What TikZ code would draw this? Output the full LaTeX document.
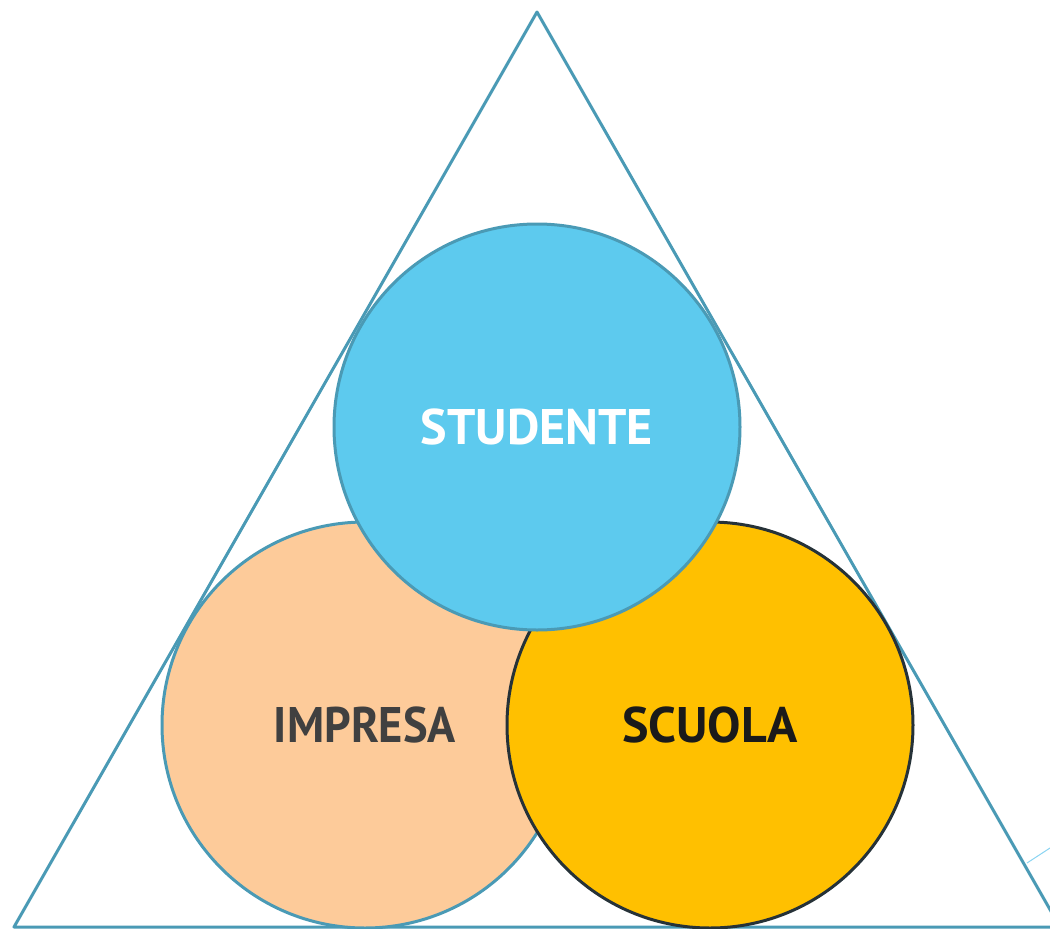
\documentclass[tikz,border=0pt]{standalone}
\usepackage{fontspec}
\setmainfont{PT Sans}
\definecolor{tri}{HTML}{4A9AB5}
\definecolor{stufill}{HTML}{5DCAEE}
\definecolor{impfill}{HTML}{FDCB9A}
\definecolor{scufill}{HTML}{FFC000}
\definecolor{sculine}{HTML}{263238}
\definecolor{imptext}{HTML}{404040}
\definecolor{scutext}{HTML}{1A1A1A}
\definecolor{faint}{HTML}{8AD4F2}
\begin{document}
\begin{tikzpicture}[x=1pt,y=-1pt,
  bubble/.style={circle,minimum size=406pt,inner sep=0pt,line width=3pt,
    font=\fontsize{50}{58}\selectfont\bfseries},
  ]
\useasboundingbox (0,0) rectangle (1050,929);
\coordinate (apex) at (537,12);
\coordinate (bl) at (14,927);
\coordinate (br) at (1060,927);
\draw[tri,line width=3pt,line join=round] (bl) -- (apex) -- (br) -- cycle;
\coordinate (f1) at (1027,863);
\coordinate (f2) at (1050,848);
\draw[faint,line width=1pt] (f1) -- (f2);
\node[bubble,draw=tri,fill=impfill,text=imptext] (imp) at (365,725) {\scalebox{0.93}[1]{IMPRESA}};
\node[bubble,draw=sculine,fill=scufill,text=scutext] (scu) at (710,725) {SCUOLA};
\node[bubble,draw=tri,fill=stufill,text=white] (stu) at (537,427) {STUDENTE};
\end{tikzpicture}
\end{document}
